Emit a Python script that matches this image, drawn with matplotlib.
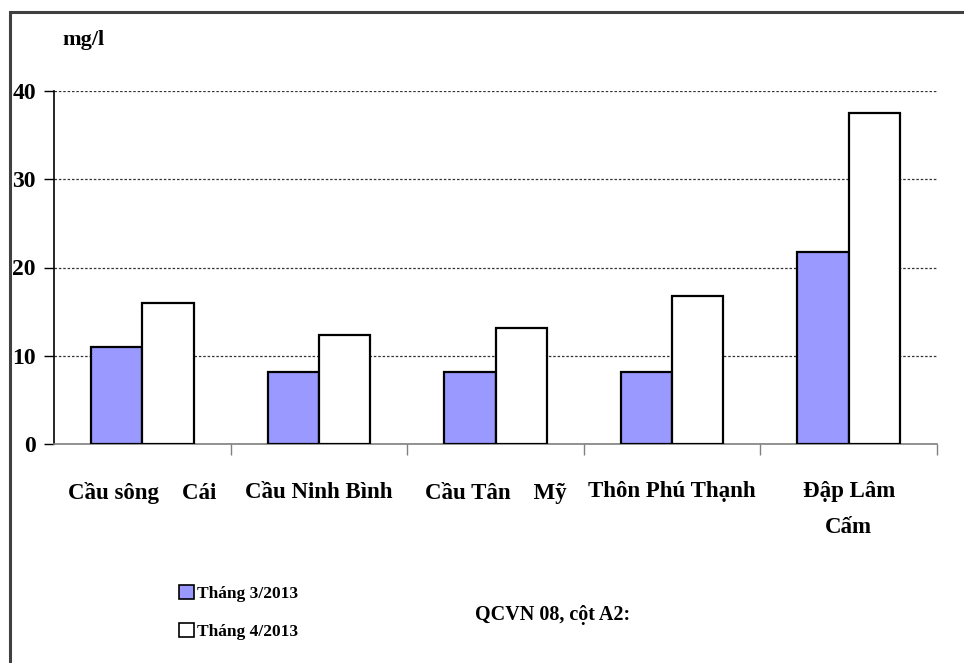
import numpy as np
import matplotlib
matplotlib.use("Agg")
import matplotlib.pyplot as plt
from matplotlib.patches import Rectangle, Patch

plt.rcParams['font.family'] = ['Liberation Serif', 'DejaVu Serif']
plt.rcParams['font.weight'] = 'bold'

stations = ['Cầu sông    Cái', 'Cầu Ninh Bình', 'Cầu Tân    Mỹ', 'Thôn Phú Thạnh', 'Đập Lâm\nCấm']
thang3 = [11.0, 8.2, 8.2, 8.2, 21.7]
thang4 = [16.0, 12.3, 13.1, 16.8, 37.5]
series_names = ['Tháng 3/2013', 'Tháng 4/2013']
yticks = [0, 10, 20, 30, 40]

W, H = 964, 663
fig = plt.figure(figsize=(W / 100, H / 100), dpi=100)
ax = fig.add_axes([54 / W, 1 - 444 / H, 883 / W, 353 / H])

x = np.arange(len(stations))
bw = 0.29
ax.bar(x - bw / 2, thang3, bw, color='#9999FF', edgecolor='black', linewidth=1.6, zorder=3)
ax.bar(x + bw / 2, thang4, bw, color='white', edgecolor='black', linewidth=1.6, zorder=3)

ax.set_xlim(-0.5, len(stations) - 0.5)
ax.set_ylim(0, 40)
ax.set_yticks(yticks)
ax.set_yticklabels([str(v) for v in yticks], fontsize=17, fontweight='bold')
ax.tick_params(axis='y', length=7, width=1, color='black', pad=6)
ax.yaxis.grid(True, linestyle=(0, (2, 1.5)), color='#333333', linewidth=0.9, zorder=1)
ax.set_axisbelow(True)

ax.set_xticks(x)
ax.set_xticklabels(stations, fontsize=16.5, fontweight='bold', linespacing=1.9)
ax.set_xticks(np.arange(len(stations)) + 0.5, minor=True)
ax.tick_params(axis='x', which='major', length=0, pad=27)
ax.tick_params(axis='x', which='minor', length=8, width=1, color='#808080', direction='out')

for s in ['top', 'right']:
    ax.spines[s].set_visible(False)
ax.spines['left'].set_color('black')
ax.spines['left'].set_linewidth(1.2)
ax.spines['bottom'].set_color('#808080')
ax.spines['bottom'].set_linewidth(1.2)

fig.text(83 / W, 1 - 40 / H, 'mg/l', fontsize=16, fontweight='bold', ha='center', va='center')
fig.text(553 / W, 1 - 615 / H, 'QCVN 08, cột A2:', fontsize=14.5, fontweight='bold',
         ha='center', va='center')

handles = [Patch(facecolor='#9999FF', edgecolor='black', linewidth=1.2),
           Patch(facecolor='white', edgecolor='black', linewidth=1.2)]
fig.legend(handles, series_names, loc='upper left', bbox_to_anchor=(179 / W, 1 - 585 / H),
           frameon=False, prop={'size': 12.5, 'weight': 'bold'},
           handlelength=0.85, handleheight=0.85, handletextpad=0.2, labelspacing=1.2,
           borderpad=0, borderaxespad=0)

# outer frame, open at the right and bottom
fig.patches.append(Rectangle((10 / W, -0.1), 1.2, 1 - 12 / H + 0.1, transform=fig.transFigure,
                             fill=False, edgecolor='#404040', linewidth=2.2))

fig.savefig('out.png', dpi=100)
